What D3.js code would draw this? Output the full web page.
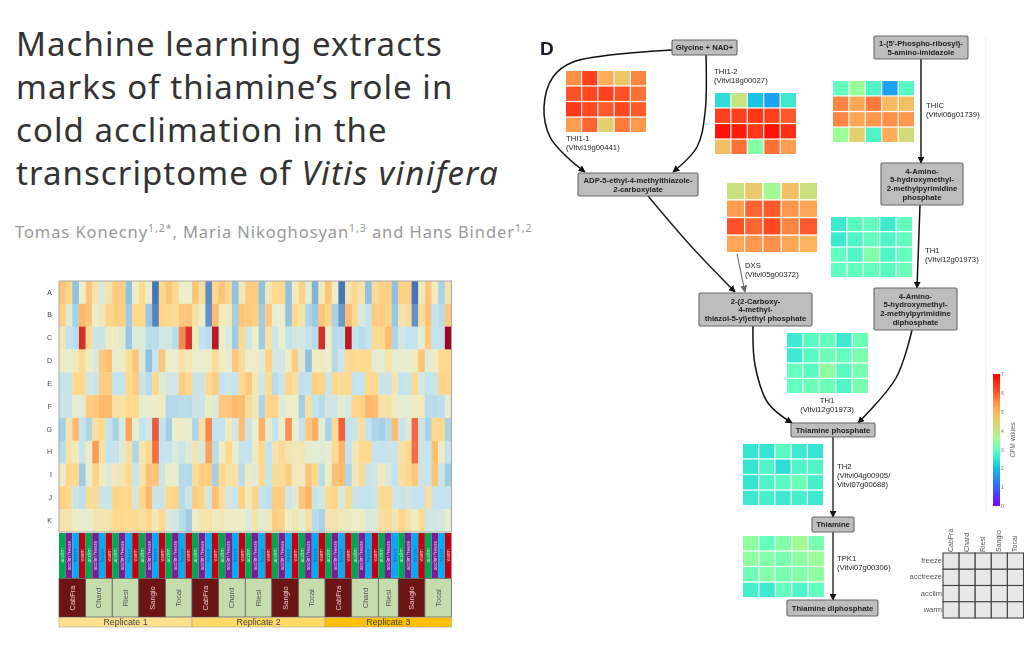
<!DOCTYPE html>
<html>
<head>
<meta charset="utf-8">
<script src="https://cdn.jsdelivr.net/npm/d3@7"></script>
<style>
  body { margin: 0; background: #fff; }
  svg { display: block; }
  .soft { filter: blur(0.45px); }
</style>
</head>
<body>
<div id="chart"></div>
<script>
// Heatmap values, one list per row (scaled expression)
const rowNames = ['A', 'B', 'C', 'D', 'E', 'F', 'G', 'H', 'I', 'J', 'K'];
const rowA = [1.5,1,-2,0,1.5,.5,-.5,.5,1.3,1.3,-2,0,1,0,-3,1,1.5,1,0,0,1.5,.7,-2.7,1,1.5,1,-2,.3,1.3,1.3,-2,.3,1,1,-2,.2,1.2,-.2,-2.2,.2,1.5,0,-3,.4,1,.5,-2,.8,1.2,1.2,-2,1.2,1.2,-3,.2,1.4,.2,-1.5,.5];
const rowB = [1.2,-.3,-1.5,1.8,1.5,0,.3,1.1,1.2,1.2,-1.7,1,1,-1.8,-2.8,1.1,1,.8,1.4,1.5,.6,0,-2.6,1.7,.2,.2,-1.6,1.5,1.4,1.2,-1.7,1.4,-.1,0,-1.9,1,.5,-1.4,-1.8,1.5,1.1,-1.5,-2.5,1.7,.9,-.5,-1,1.3,1.3,1,-1.8,.5,.8,-2.6,.8,1.5,-1,-1.2,1.4];
const rowC = [.3,-1,-1.2,4,.9,-.8,-.8,.1,.1,-.3,-1.8,-.4,-.4,-1.2,-1.2,-.7,-.7,-1.2,2.6,3.9,.2,-1,-1.2,4.5,0,-.5,-1.7,.9,-.7,0,-1.7,.6,-.8,0,-1,-.6,-.6,-1,-1.2,4,0,-1.2,-1.2,4.5,-1,-1.2,-1,.9,.9,1.7,-1.4,-.6,-1,-1,-.2,1.3,-1,-1,5];
const rowD = [.1,-.1,.3,.9,.1,-.5,1.4,1.6,-.1,.1,.8,1.5,-.5,-2,-.9,1.5,0,0,.6,.3,0,-.1,.1,.8,.1,-.1,1.4,.8,0,.1,-.3,1.2,-.7,-.7,.1,1.3,-.4,-2,.2,.2,0,-1.3,-.7,.9,.9,.9,.9,-.2,-.2,.5,-.1,-.1,-.1,.2,1.5,-.3,.1,1,1];
const rowE = [-1,-.8,1,1,-.7,-.8,1.3,1.3,-1,-1,1,1.3,-.8,-1.2,1,-.3,-.6,-.7,1.3,1,-.8,-.8,1,1.3,-1,-.7,-1,1,1.4,.3,-.7,.8,-1.2,-.8,1.1,.7,-1.1,-1,1.2,1.1,-.8,1,.8,1,-1,-1,1,1,-.8,-.8,.4,-1,-.8,.9,-.6,-1,-.8,1.1,1.1];
const rowF = [-.8,-.8,-.2,-.3,1.3,1.4,1.8,1.8,.6,.6,1,1,-.2,-.2,.1,.1,-1.3,-1.3,-1.2,-1.2,-.8,-.8,.1,-.4,1.4,1.4,1.8,1.7,.8,.3,-1.4,1.1,1.1,-.3,0,0,-1.6,.7,-1,-1.2,-.7,-.7,-.2,-.5,1.1,1.2,1.8,1.7,.6,.6,.2,-.2,-.2,.2,.2,-1.2,-1.2,-1.1,-.2];
const rowG = [-1.6,.4,1.7,-1,-1.4,.7,.9,-1,-1.5,-.5,2.2,-.1,-1,-.6,3.3,-1,-1.6,.1,.1,-.1,-1.4,.6,2.6,-1,-1,.2,-.6,1.6,-.8,0,2,-.1,-1,0,2.5,0,-1,1.4,2,-.2,-1.5,.9,3.2,-1,-.8,.7,-1,-1.4,-1.6,-1.2,1.7,-.9,-.4,3.1,-.8,-1.5,1,1,-1.5];
const rowH = [-1.2,.5,.2,-.9,.1,2.3,.6,-1,-.9,-.3,.7,-1.4,.4,.9,3,-1,-1,-.4,-.8,-.4,.4,-.5,2.2,-1.2,.1,1,0,-1,-1,.2,1,-1,.4,.9,.4,.3,.4,-.2,-.2,-.3,-.2,.9,1.9,-1,.3,1,1,-1,-1,-.8,-.8,.6,1,3,-.9,-.9,1.6,.1,-1];
const rowI = [.1,1,1,-1.7,-.1,1.1,.2,-.4,.3,.4,1,-.9,.5,1.5,1.5,-.8,.1,-.1,-1.3,-1.3,.8,1.3,1.3,-1.6,1,.6,.6,-1.2,.2,-.3,1,-.9,.8,.8,1.3,.2,.2,1.5,1,-1.2,.1,1.6,1.7,-1.4,.3,.8,-.8,-.7,.2,-.5,-1,.7,1,1.4,-.8,-.8,1.5,-.8,-1.7];
const rowJ = [1.2,.9,-.8,-1.1,.8,.8,-.8,-.8,1.1,1,1,-.6,1,1.8,-.8,-.8,1,1.1,-1.3,-.8,1.3,1.1,-.7,1.6,.8,-.6,-.8,1.2,.3,1.1,-1,-1.1,1.3,1.3,-.7,-.3,1.5,1.9,-.8,-.7,.9,1.1,-.5,.8,-.8,-1,-1,-.8,1,1,-.7,-.9,-.6,-1,-1,.7,-1,-1,-1];
const rowK = [.5,.5,.1,-.2,-.1,.4,.4,.5,1,1,.9,.9,.7,1,.3,1,-.5,-.6,-1.2,-1.7,.1,.4,.6,.2,.3,.1,.1,.1,-.4,.5,-.3,.2,1.3,1.1,.1,.5,-.2,.7,-1.2,-1.5,.4,.5,.3,.2,.1,.1,-.5,-.4,.7,.8,.4,1.1,.6,.1,.9,-.7,-.7,-.6,-.2];
const heatRows = [rowA, rowB, rowC, rowD, rowE, rowF, rowG, rowH, rowI, rowJ, rowK];

// Column annotations
const replicates = ['Replicate 1', 'Replicate 2', 'Replicate 3'];
const cultivars = ['CabFra', 'Chard', 'Riesl', 'Sangio', 'Tocai'];
const conditions = ['acclim', 'acclim freeze', 'freeze', 'warm'];

// CPM grids of the pathway panel
const cpmTHI11 = [[5.5,6.3,5.1,4.7,5.6],[6.1,6.2,6.3,6.1,5.8],[6.4,6.2,6.0,6.2,6.0],[5.3,5.9,4.5,5.7,5.4]];
const cpmTHI12 = [[2.4,4.0,2.1,1.7,2.6],[6.3,6.3,6.4,6.3,6.0],[6.8,6.7,6.4,6.8,6.5],[4.8,5.8,3.3,5.8,5.3]];
const cpmTHIC = [[3.0,3.5,2.8,1.7,2.9],[5.6,5.2,5.7,4.9,4.8],[5.6,5.2,5.4,5.5,5.4],[3.5,4.5,2.8,5.1,4.2]];
const cpmDXS = [[4.1,4.6,3.6,4.8,4.1],[5.3,5.9,6.0,5.4,5.2],[6.1,5.9,6.2,5.6,6.0],[5.2,5.4,5.5,5.2,5.0]];
const cpmTH1a = [[2.6,2.9,3.0,2.6,3.0],[2.6,2.8,3.0,2.8,3.0],[3.0,2.8,3.3,2.8,3.0],[3.0,3.0,3.0,2.9,3.1]];
const cpmTH1b = [[2.6,2.9,3.0,2.6,3.1],[2.6,2.9,3.1,3.0,3.2],[3.0,2.9,3.4,2.9,3.2],[3.0,3.1,3.1,2.8,3.2]];
const cpmTH2 = [[2.5,2.5,2.9,2.6,2.5],[2.5,2.8,2.4,2.8,2.8],[2.5,2.8,2.9,3.1,2.7],[2.6,2.7,2.6,2.7,2.6]];
const cpmTPK1 = [[3.4,3.0,3.3,3.6,3.2],[3.4,3.3,3.2,3.4,3.5],[3.1,3.3,3.2,3.3,3.4],[2.7,2.6,3.0,2.8,3.0]];

const keyRows = ['freeze', 'accfreeze', 'acclim', 'warm'];
const cpmTicks = [0, 1, 2, 3, 4, 5, 6, 7];

// Colours
const heatColor = d3.scaleLinear()
  .domain([-3, -2, -1, 0, 1, 2, 3, 4, 5])
  .range(['#4575b4', '#91c1de', '#c3e3ee', '#eceecb', '#fed88c', '#fdb063', '#f46d43', '#d42d26', '#a50026']);
const cpmColor = d3.scaleLinear()
  .domain([0, 1, 2, 2.5, 3, 3.5, 4, 4.5, 5, 5.5, 6, 6.5, 7])
  .range(['#8000ff', '#3366ff', '#12bce6', '#36e4d4', '#62ffbe', '#99ff99', '#c4e482', '#e2cf70', '#ffb45e', '#ff9048', '#ff5a2c', '#ff2e14', '#ff0000']);
const conditionColor = d3.scaleOrdinal(conditions, ['#00a651', '#7d1a96', '#00aeef', '#c00014']);
const conditionText = d3.scaleOrdinal(conditions, ['#b8f0c8', '#e6c8f0', '#1c6c9c', '#ffc8c8']);
const cultivarColor = d3.scaleOrdinal(cultivars, ['#6d1414', '#c5dcad', '#c5dcad', '#6d1414', '#c5dcad']);
const cultivarText = d3.scaleOrdinal(cultivars, ['#e8c8c8', '#555', '#555', '#e8c8c8', '#555']);
const replicateColor = d3.scaleOrdinal(replicates, ['#ffe08f', '#ffd966', '#ffc000']);

const svg = d3.select('#chart').append('svg')
  .attr('width', 1024)
  .attr('height', 646)
  .style('font-family', '"Liberation Sans", sans-serif');

// Title block
const titleLines = ['Machine learning extracts', 'marks of thiamine’s role in', 'cold acclimation in the'];
const title = svg.append('g')
  .style('font-family', '"Noto Sans", sans-serif')
  .style('font-size', '33px')
  .style('letter-spacing', '1.05px')
  .attr('fill', '#333');
titleLines.forEach((t, i) => {
  title.append('text').attr('x', 16).attr('y', 56 + i * 43).text(t);
});
const lastLine = title.append('text').attr('x', 16).attr('y', 185);
lastLine.append('tspan').text('transcriptome of ');
lastLine.append('tspan').style('font-style', 'italic').style('letter-spacing', '1.35px').text('Vitis vinifera');

const authors = svg.append('text')
  .attr('x', 15)
  .attr('y', 238)
  .attr('fill', '#999')
  .style('font-family', '"Noto Sans", sans-serif')
  .style('font-size', '16.5px')
  .style('letter-spacing', '0.92px');
[['Tomas Konecny', '1,2*'], [', Maria Nikoghosyan', '1,3'], [' and Hans Binder', '1,2']].forEach(([name, sup], i) => {
  authors.append('tspan').attr('dy', i ? 6 : 0).text(name);
  authors.append('tspan').attr('dy', -6).style('font-size', '10.5px').text(sup);
});

// Left panel: heatmap with annotation bars
const left = svg.append('g').attr('class', 'soft');

// one column per sample; the third Riesling replicate has no warm sample
const samples = [];
replicates.forEach((rep) => {
  cultivars.forEach((cult) => {
    conditions.forEach((cond) => {
      if (rep === 'Replicate 3' && cult === 'Riesl' && cond === 'warm') return;
      samples.push({ id: samples.length, rep, cult, cond });
    });
  });
});

const x = d3.scaleBand().domain(d3.range(samples.length)).range([59, 451.5]);
const y = d3.scaleBand().domain(rowNames).range([281, 532]);

heatRows.forEach((values, r) => {
  left.selectAll(null)
    .data(values)
    .join('rect')
    .attr('x', (d, i) => x(i))
    .attr('y', y(rowNames[r]))
    .attr('width', x.bandwidth() + 0.3)
    .attr('height', y.bandwidth() + 0.3)
    .attr('fill', (d) => heatColor(d));
});

left.append('rect')
  .attr('x', 59).attr('y', 281).attr('width', 392.5).attr('height', 251)
  .attr('fill', 'none').attr('stroke', '#aaa');

const rowAxis = left.append('g')
  .attr('transform', 'translate(55,0)')
  .call(d3.axisLeft(y).tickSize(0));
rowAxis.select('.domain').remove();
rowAxis.selectAll('text').attr('fill', '#444').style('font-size', '7px').style('font-family', '"Liberation Sans", sans-serif');

// condition strip
const condCells = left.selectAll('.cond').data(samples).join('g').attr('class', 'cond');
condCells.append('rect')
  .attr('x', (d) => x(d.id))
  .attr('y', 533)
  .attr('width', x.bandwidth())
  .attr('height', 45)
  .attr('fill', (d) => conditionColor(d.cond));
condCells.append('text')
  .attr('transform', (d) => `translate(${x(d.id) + x.bandwidth() / 2 + 1.7},555.5) rotate(-90)`)
  .attr('text-anchor', 'middle')
  .attr('fill', (d) => conditionText(d.cond))
  .style('font-size', '5px')
  .text((d) => d.cond);

// cultivar and replicate strips, one span per run of columns
const cultSpans = d3.flatRollup(samples, (v) => ({
  cult: v[0].cult,
  x0: x(v[0].id),
  x1: x(v[v.length - 1].id) + x.bandwidth(),
}), (d) => d.rep, (d) => d.cult).map((d) => d[2]);

left.selectAll('.cult').data(cultSpans).join('rect')
  .attr('class', 'cult')
  .attr('x', (d) => d.x0)
  .attr('y', 578.5)
  .attr('width', (d) => d.x1 - d.x0)
  .attr('height', 38.5)
  .attr('fill', (d) => cultivarColor(d.cult))
  .attr('stroke', '#555')
  .attr('stroke-width', 0.7);
left.selectAll('.cultLabel').data(cultSpans).join('text')
  .attr('class', 'cultLabel')
  .attr('transform', (d) => `translate(${(d.x0 + d.x1) / 2 + 2.5},598) rotate(-90)`)
  .attr('text-anchor', 'middle')
  .attr('fill', (d) => cultivarText(d.cult))
  .style('font-size', '7.5px')
  .text((d) => d.cult);

const repSpans = d3.flatRollup(samples, (v) => ({
  k: v[0].rep,
  x0: x(v[0].id),
  x1: x(v[v.length - 1].id) + x.bandwidth(),
}), (d) => d.rep).map((d) => d[1]);
left.selectAll('.rep').data(repSpans).join('rect')
  .attr('class', 'rep')
  .attr('x', (d) => d.x0)
  .attr('y', 617.5)
  .attr('width', (d) => d.x1 - d.x0)
  .attr('height', 9.5)
  .attr('fill', (d) => replicateColor(d.k))
  .attr('stroke', '#999')
  .attr('stroke-width', 0.5);
left.selectAll('.repLabel').data(repSpans).join('text')
  .attr('class', 'repLabel')
  .attr('x', (d) => (d.x0 + d.x1) / 2)
  .attr('y', 625.3)
  .attr('text-anchor', 'middle')
  .attr('fill', '#444')
  .style('font-size', '8.8px')
  .text((d) => d.k);

// Right panel: thiamine pathway
const right = svg.append('g').attr('class', 'soft');

right.append('text')
  .attr('x', 540).attr('y', 55)
  .attr('fill', '#1a1a2a')
  .style('font-size', '19px')
  .style('font-weight', 'bold')
  .text('D');

right.append('line')
  .attr('x1', 985.5).attr('x2', 985.5).attr('y1', 36).attr('y2', 512)
  .attr('stroke', '#f3f3f3');

const defs = svg.append('defs');
[['head', '#111'], ['headGrey', '#666']].forEach(([id, color]) => {
  defs.append('marker')
    .attr('id', id)
    .attr('viewBox', '0 0 10 10')
    .attr('refX', 9)
    .attr('refY', 5)
    .attr('markerWidth', 7)
    .attr('markerHeight', 7)
    .attr('markerUnits', 'userSpaceOnUse')
    .attr('orient', 'auto')
    .append('path')
    .attr('d', 'M0,0L10,5L0,10Z')
    .attr('fill', color);
});

// layout of the reaction edges
const edgeLine = d3.line().curve(d3.curveCatmullRom.alpha(0.5));
const edgeLayout = [
  { pts: [[672, 50], [573, 62], [553, 77], [544, 107], [550, 137], [567, 157], [585, 172]], color: '#111', w: 1.5 },
  { pts: [[706, 55], [705, 113], [697, 147], [673, 172]], color: '#111', w: 1.5 },
  { pts: [[648, 196], [690, 245], [735, 292]], color: '#222', w: 1.5 },
  { pts: [[737, 254], [745, 292]], color: '#777', w: 1.2 },
  { pts: [[921, 59], [921, 163]], color: '#444', w: 1.8 },
  { pts: [[920, 205], [917, 288]], color: '#111', w: 1.5 },
  { pts: [[753, 326], [755, 365], [768, 403], [792, 423]], color: '#111', w: 1.5 },
  { pts: [[912, 330], [896, 378], [858, 423]], color: '#111', w: 1.5 },
  { pts: [[833, 437], [833, 517]], color: '#333', w: 1.5 },
  { pts: [[833, 532], [833, 600]], color: '#333', w: 1.5 },
];
right.selectAll('.edge').data(edgeLayout).join('path')
  .attr('class', 'edge')
  .attr('d', (d) => edgeLine(d.pts))
  .attr('fill', 'none')
  .attr('stroke', (d) => d.color)
  .attr('stroke-width', (d) => d.w)
  .attr('marker-end', (d) => (d.color === '#777' ? 'url(#headGrey)' : 'url(#head)'));

// metabolite boxes
const nodeLayout = [
  { lines: ['Glycine + NAD+'], x0: 672, x1: 737, y0: 40, y1: 55 },
  { lines: ['ADP-5-ethyl-4-methylthiazole-', '2-carboxylate'], x0: 578, x1: 698, y0: 173, y1: 196 },
  { lines: ['1-(5\'-Phospho-ribosyl)-', '5-amino-imidazole'], x0: 874, x1: 968, y0: 36, y1: 59 },
  { lines: ['4-Amino-', '5-hydroxymethyl-', '2-methylpyrimidine', 'phosphate'], x0: 881, x1: 963, y0: 163, y1: 205 },
  { lines: ['2-(2-Carboxy-', '4-methyl-', 'thiazol-5-yl)ethyl phosphate'], x0: 699, x1: 812, y0: 293, y1: 326 },
  { lines: ['4-Amino-', '5-hydroxymethyl-', '2-methylpyrimidine', 'diphosphate'], x0: 874, x1: 957, y0: 288, y1: 330 },
  { lines: ['Thiamine phosphate'], x0: 791, x1: 875, y0: 423, y1: 437 },
  { lines: ['Thiamine'], x0: 812, x1: 854, y0: 517, y1: 532 },
  { lines: ['Thiamine diphosphate'], x0: 787, x1: 878, y0: 600, y1: 616 },
];
const nodes = right.selectAll('.node').data(nodeLayout).join('g').attr('class', 'node');
nodes.append('rect')
  .attr('x', (d) => d.x0)
  .attr('y', (d) => d.y0)
  .attr('width', (d) => d.x1 - d.x0)
  .attr('height', (d) => d.y1 - d.y0)
  .attr('rx', 1.5)
  .attr('fill', '#bdbdbd')
  .attr('stroke', '#666')
  .attr('stroke-width', 1.1);
nodes.each(function (d) {
  const midY = (d.y0 + d.y1) / 2;
  d3.select(this).selectAll('text').data(d.lines).join('text')
    .attr('x', (d.x0 + d.x1) / 2)
    .attr('y', (t, i) => midY + (i - (d.lines.length - 1) / 2) * 8.7 + 2.7)
    .attr('text-anchor', 'middle')
    .attr('fill', '#222')
    .style('font-size', '7.7px')
    .style('font-weight', 'bold')
    .text((t) => t);
});

// CPM grids, 5 cultivars by 4 conditions
const gridLayout = [
  { data: cpmTHI11, x0: 566, x1: 646, y0: 71, y1: 132 },
  { data: cpmTHI12, x0: 715, x1: 796, y0: 93, y1: 154 },
  { data: cpmTHIC, x0: 833, x1: 914, y0: 81, y1: 142 },
  { data: cpmDXS, x0: 727, x1: 817, y0: 183, y1: 252 },
  { data: cpmTH1a, x0: 831, x1: 912, y0: 217, y1: 277 },
  { data: cpmTH1b, x0: 787, x1: 868, y0: 333, y1: 393 },
  { data: cpmTH2, x0: 743, x1: 823, y0: 444, y1: 505 },
  { data: cpmTPK1, x0: 743, x1: 824, y0: 536, y1: 597 },
];
gridLayout.forEach((g) => {
  const gx = d3.scaleBand().domain(cultivars).range([g.x0, g.x1]).paddingInner(0.07);
  const gy = d3.scaleBand().domain(keyRows).range([g.y0, g.y1]).paddingInner(0.08);
  g.data.forEach((row, r) => {
    right.selectAll(null)
      .data(row)
      .join('rect')
      .attr('x', (d, i) => gx(cultivars[i]))
      .attr('y', gy(keyRows[r]))
      .attr('width', gx.bandwidth())
      .attr('height', gy.bandwidth())
      .attr('fill', (d) => cpmColor(d));
  });
});

// enzyme labels
const labelLayout = [
  { lines: ['THI1-1', '(Vitvi19g00441)'], x: 566, y: 141 },
  { lines: ['THI1-2', '(Vitvi18g00027)'], x: 714, y: 74 },
  { lines: ['THIC', '(Vitvi06g01739)'], x: 926, y: 108 },
  { lines: ['DXS', '(Vitvi05g00372)'], x: 745, y: 268 },
  { lines: ['TH1', '(Vitvi12g01973)'], x: 925, y: 253 },
  { lines: ['TH1', '(Vitvi12g01973)'], x: 827, y: 403, anchor: 'middle' },
  { lines: ['TH2', '(Vitvi04g00905/', 'Vitvi07g00688)'], x: 837, y: 469 },
  { lines: ['TPK1', '(Vitvi07g00306)'], x: 837, y: 561 },
];
labelLayout.forEach((l) => {
  right.selectAll(null)
    .data(l.lines)
    .join('text')
    .attr('x', l.x)
    .attr('y', (t, i) => l.y + i * 9)
    .attr('text-anchor', l.anchor || 'start')
    .attr('fill', '#222')
    .style('font-size', '7.7px')
    .text((t) => t);
});

// colour bar
const barScale = d3.scaleLinear().domain([0, 7]).range([506, 374]);
const gradient = defs.append('linearGradient')
  .attr('id', 'cpmBar')
  .attr('x1', 0).attr('x2', 0).attr('y1', 1).attr('y2', 0);
cpmColor.domain().forEach((v) => {
  gradient.append('stop')
    .attr('offset', `${(v / 7) * 100}%`)
    .attr('stop-color', cpmColor(v));
});
right.append('rect')
  .attr('x', 993).attr('y', 374).attr('width', 7).attr('height', 132)
  .attr('fill', 'url(#cpmBar)');
const barAxis = right.append('g')
  .attr('transform', 'translate(998,0)')
  .call(d3.axisRight(barScale).tickValues(cpmTicks).tickSize(0).tickFormat(d3.format('d')));
barAxis.select('.domain').remove();
barAxis.selectAll('text').attr('fill', '#777').style('font-size', '5px').style('font-family', '"Liberation Sans", sans-serif');
right.append('text')
  .attr('transform', 'translate(1015,440) rotate(-90)')
  .attr('text-anchor', 'middle')
  .attr('fill', '#666')
  .style('font-size', '6.5px')
  .text('CPM values');

// key grid
const keyX = d3.scaleBand().domain(cultivars).range([943, 1023.5]);
const keyY = d3.scaleBand().domain(keyRows).range([553, 618]);
keyRows.forEach((row) => {
  right.selectAll(null)
    .data(cultivars)
    .join('rect')
    .attr('x', (d) => keyX(d))
    .attr('y', keyY(row))
    .attr('width', keyX.bandwidth())
    .attr('height', keyY.bandwidth())
    .attr('fill', '#e8e8e8')
    .attr('stroke', '#444')
    .attr('stroke-width', 1.1);
});
right.selectAll('.keyRow').data(keyRows).join('text')
  .attr('class', 'keyRow')
  .attr('x', 942)
  .attr('y', (d) => keyY(d) + keyY.bandwidth() / 2 + 2)
  .attr('text-anchor', 'end')
  .attr('fill', '#555')
  .style('font-size', '7.5px')
  .text((d) => d);
right.selectAll('.keyCol').data(cultivars).join('text')
  .attr('class', 'keyCol')
  .attr('transform', (d) => `translate(${keyX(d) + keyX.bandwidth() / 2 + 2},552) rotate(-90)`)
  .attr('fill', '#555')
  .style('font-size', '7px')
  .text((d) => d);
</script>
</body>
</html>
